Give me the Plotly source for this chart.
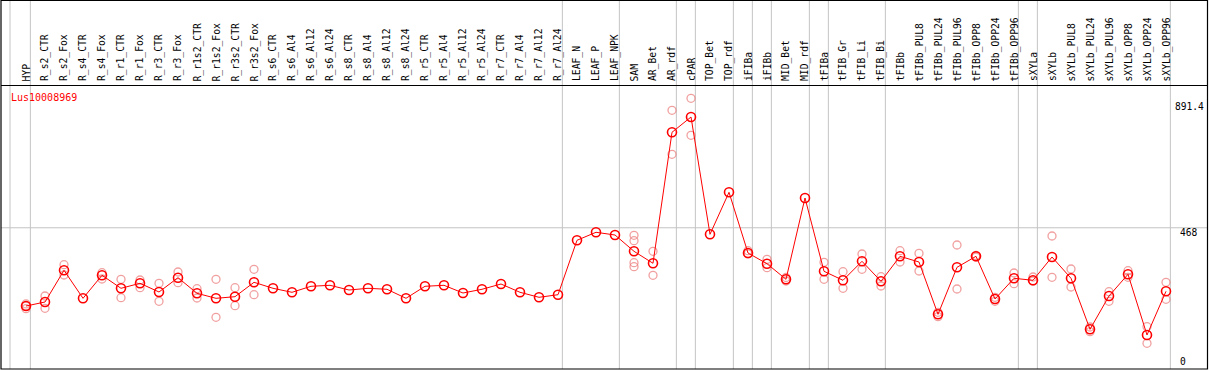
import plotly.graph_objects as go

W, H = 1209, 370

categories = ["HYP", "R_s2_CTR", "R_s2_Fox", "R_s4_CTR", "R_s4_Fox", "R_r1_CTR", "R_r1_Fox",
              "R_r3_CTR", "R_r3_Fox", "R_r1s2_CTR", "R_r1s2_Fox", "R_r3s2_CTR", "R_r3s2_Fox",
              "R_s6_CTR", "R_s6_Al4", "R_s6_Al12", "R_s6_Al24", "R_s8_CTR", "R_s8_Al4",
              "R_s8_Al12", "R_s8_Al24", "R_r5_CTR", "R_r5_Al4", "R_r5_Al12", "R_r5_Al24",
              "R_r7_CTR", "R_r7_Al4", "R_r7_Al12", "R_r7_Al24", "LEAF_N", "LEAF_P", "LEAF_NPK",
              "SAM", "AR_Bet", "AR_rdf", "cPAR", "TOP_Bet", "TOP_rdf", "iFIBa", "iFIBb",
              "MID_Bet", "MID_rdf", "tFIBa", "tFIB_Gr", "tFIB_Li", "tFIB_Bi", "tFIBb",
              "tFIBb_PUL8", "tFIBb_PUL24", "tFIBb_PUL96", "tFIBb_OPP8", "tFIBb_OPP24",
              "tFIBb_OPP96", "sXYLa", "sXYLb", "sXYLb_PUL8", "sXYLb_PUL24", "sXYLb_PUL96",
              "sXYLb_OPP8", "sXYLb_OPP24", "sXYLb_OPP96"]

mean_values = [205.0, 218.5, 325.0, 230.9, 308.2, 264.5, 281.3, 252.1, 300.2, 247.7, 230.9,
               236.3, 284.7, 264.5, 251.1, 271.3, 274.6, 258.8, 264.5, 261.2, 230.9, 271.3,
               274.6, 248.7, 261.2, 279.0, 251.1, 234.3, 243.0, 425.9, 452.8, 443.7, 388.9,
               348.6, 788.9, 840.3, 446.1, 587.2, 383.2, 347.2, 294.8, 568.1, 321.7, 291.4,
               355.3, 288.1, 372.1, 352.9, 177.1, 335.1, 372.1, 228.6, 298.2, 291.4, 369.7,
               298.2, 126.7, 238.7, 311.6, 107.6, 254.5]

N = None
rep1 = [212, 238.7, 343.9, N, 317.0, 294.8, 292.4, 281.3, 319.3, 263.2, 294.8, 266.6, 328.4,
        N, N, N, N, N, N, N, N, N, N, N, N, N, N, N, N, N, N, N,
        442.7, 388.9, 862.9, 903.2, N, N, 390.9, 362.0, 300.8, N, 351.9, 320.3, 379.8, 303.5,
        390.9, 382.2, 183.9, 410.1, 374.8, 234.3, 316.0, 302.5, 440.3, 329.4, 134.5, 253.1,
        323.7, 135.5, 284.7]
rep2 = [196, 197.3, 309.2, N, 295.8, 232.9, 266.6, 220.8, 283.4, 231.9, 167.1, 206.1, 243.0,
        N, N, N, N, N, N, N, N, N, N, N, N, N, N, N, N, N, N, N,
        337.1, 308.2, 715.0, 778.8, N, N, 380.0, 333.8, 289.0, N, 294.8, 264.5, 328.4, 272.3,
        352.9, 322.7, 169.1, 262.2, 369.7, 220.8, 280.0, 289.1, 301.5, 268.9, 118.7, 220.8,
        301.5, 79.7, 227.6]
rep3 = [205, N, N, N, N, N, N, N, N, N, N, N, N,
        N, N, N, N, N, N, N, N, N, N, N, N, N, N, N, N, N, N, N,
        424.5, N, N, N, N, N, N, N, N, N, N, N, N, N,
        N, N, N, N, N, N, N, N, N, N, N, N, N, N, N]
rep4 = [N, N, N, N, N, N, N, N, N, N, N, N, N,
        N, N, N, N, N, N, N, N, N, N, N, N, N, N, N, N, N, N, N,
        350.6, N, N, N, N, N, N, N, N, N, N, N, N, N,
        N, N, N, N, N, N, N, N, N, N, N, N, N, N, N]

# groups end after these categories (separator lines)
group_ends = ["HYP", "R_r7_Al24", "LEAF_NPK", "AR_rdf", "cPAR", "TOP_rdf", "iFIBa", "iFIBb",
              "MID_rdf", "tFIBa", "tFIB_Bi", "tFIBb_OPP96", "sXYLa", "sXYLb_OPP96"]

y_ticks = [0, 468, 891.4]
y_tick_labels = ["0", "468", "891.4"]
gene = "Lus10008969"

xs = list(range(len(categories)))

# pixel geometry
X0PX, DXPX = 26.0, 19.0      # pixel of first category, spacing
Y0PX, DYPX = 367.0, 0.2975    # pixel of value 0, pixels per unit

x_range = [-X0PX / DXPX, (W - X0PX) / DXPX]
y_range = [(Y0PX - H) / DYPX, Y0PX / DYPX]

def px(p):
    return p / W

def py(p):
    return 1 - p / H

fig = go.Figure()

pink = "rgba(235,120,120,0.7)"
for reps in (rep1, rep2, rep3, rep4):
    fig.add_trace(go.Scatter(
        x=xs, y=reps, mode="markers",
        marker=dict(symbol="circle-open", size=8, color=pink, line=dict(width=1.3, color=pink)),
        hoverinfo="skip", showlegend=False))

fig.add_trace(go.Scatter(
    x=xs, y=mean_values, mode="lines+markers",
    line=dict(color="#ff0000", width=1),
    marker=dict(symbol="circle-open", size=9, color="#ff0000", line=dict(width=1.6, color="#ff0000")),
    showlegend=False))

shapes = []
# separators
sep_x = [-16 / DXPX] + [categories.index(c) + 0.23 for c in group_ends]
for sx in sep_x:
    shapes.append(dict(type="line", xref="x", yref="paper", x0=sx, x1=sx, y0=py(369), y1=1,
                       line=dict(color="#c4c4c4", width=1), layer="below"))
# grid line at 468
shapes.append(dict(type="line", xref="paper", yref="y", x0=px(1), x1=px(1207.5), y0=468, y1=468,
                   line=dict(color="#c4c4c4", width=1), layer="below"))
# borders
shapes.append(dict(type="rect", xref="paper", yref="paper", x0=px(1), x1=px(1207.5),
                   y0=py(369), y1=py(0.5), line=dict(color="black", width=1.2)))
shapes.append(dict(type="line", xref="paper", yref="paper", x0=px(1), x1=px(1207.5),
                   y0=py(85.5), y1=py(85.5), line=dict(color="black", width=1.2)))

annotations = []
for i, c in enumerate(categories):
    annotations.append(dict(x=i, y=py(83.5), xref="x", yref="paper", text=c, textangle=-90,
                            showarrow=False, xanchor="center", yanchor="bottom",
                            font=dict(family="DejaVu Sans Mono", size=9.7, color="black")))
for v, t in zip(y_ticks, y_tick_labels):
    yv = v if v > 0 else (Y0PX - 361.7) / DYPX
    annotations.append(dict(x=px(1206), y=yv, xref="paper", yref="y", text=t, showarrow=False,
                            xanchor="right" if t == "891.4" else "left",
                            yanchor="middle", yshift=-4.6 if v > 0 else 0,
                            font=dict(family="DejaVu Sans Mono", size=9.6, color="black")))
    if t != "891.4":
        annotations[-1]["x"] = px(1177.5)
annotations.append(dict(x=px(8.5), y=py(97), xref="paper", yref="paper", text=gene,
                        showarrow=False, xanchor="left", yanchor="middle",
                        font=dict(family="DejaVu Sans Mono", size=10, color="#ff0000")))

fig.update_layout(
    width=W, height=H, margin=dict(l=0, r=0, t=0, b=0, pad=0),
    paper_bgcolor="white", plot_bgcolor="white",
    xaxis=dict(range=x_range, visible=False, fixedrange=True),
    yaxis=dict(range=y_range, visible=False, fixedrange=True),
    shapes=shapes, annotations=annotations,
)

fig.write_html("out.html", config={"displayModeBar": False},
               post_script="document.body.style.margin='0';")
